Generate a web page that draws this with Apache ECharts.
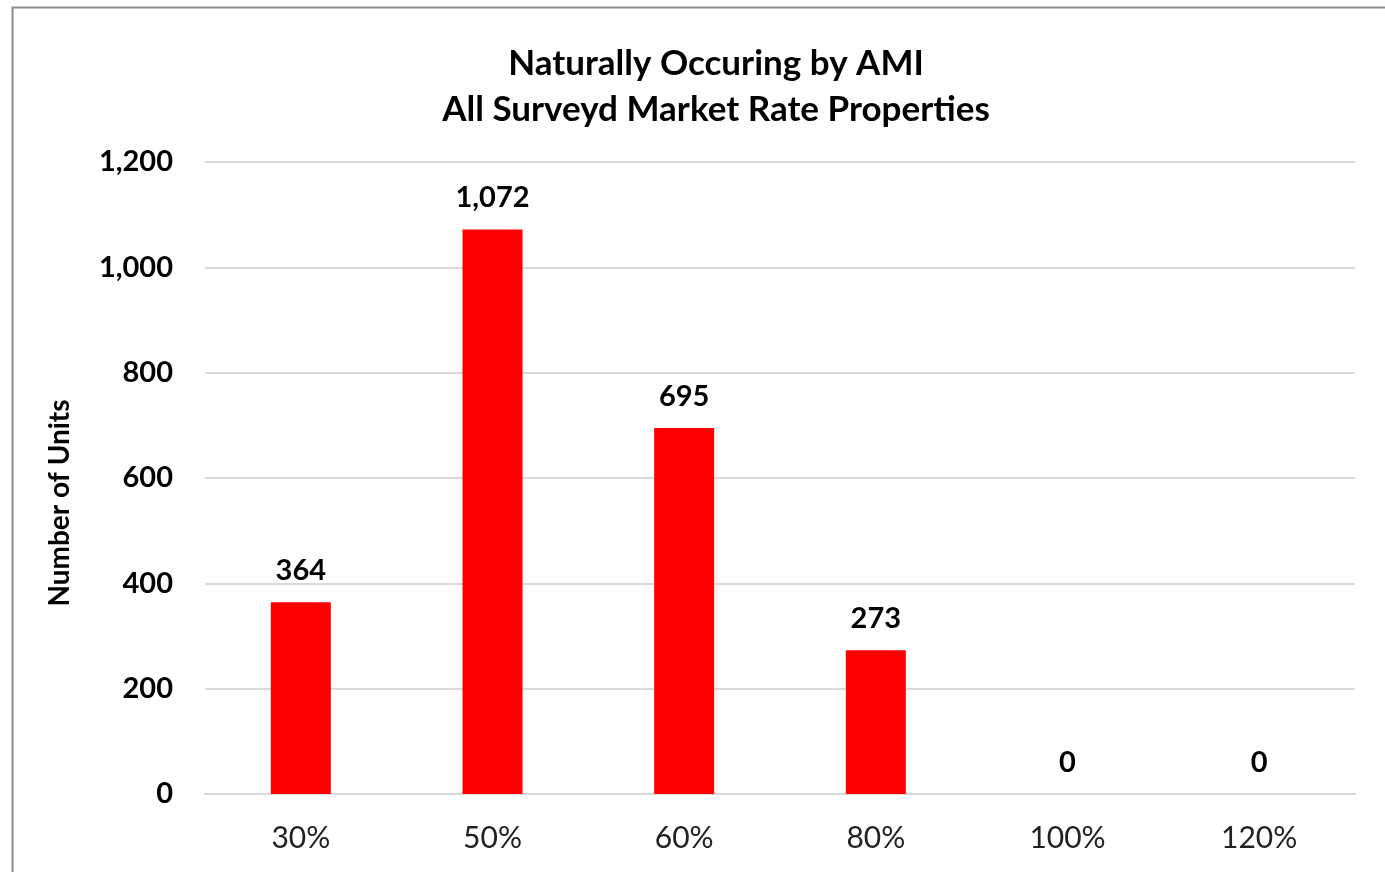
<!DOCTYPE html>
<html><head><meta charset="utf-8">
<script src="https://cdn.jsdelivr.net/npm/echarts@6/dist/echarts.min.js"></script>
<style>html,body{margin:0;padding:0;background:#fff}#c{width:1385px;height:872px}</style>
</head><body><div id="c"></div>
<script>
const categories = ['30%', '50%', '60%', '80%', '100%', '120%'];
const units = [364, 1072, 695, 273, 0, 0];
const titleLines = ['Naturally Occuring by AMI', 'All Surveyd Market Rate Properties'];
const yAxisName = 'Number of Units';

const FONT = 'Lato, "Open Sans", sans-serif';
const chart = echarts.init(document.getElementById('c'), null, {renderer: 'canvas'});
chart.setOption({
  backgroundColor: '#fff',
  animation: false,
  title: {
    text: titleLines.join('\n'),
    left: 711, top: 36, textAlign: 'center',
    textStyle: {fontFamily: FONT, fontWeight: 'bold', fontSize: 35, lineHeight: 46, color: '#000'}
  },
  graphic: [{
    type: 'rect', left: 10, top: 5, shape: {width: 1400, height: 900},
    style: {fill: 'none', stroke: '#8a8a8a', lineWidth: 2}, silent: true, z: -1
  }, {
    type: 'text', x: 60, y: 503, rotation: Math.PI / 2,
    style: {text: yAxisName, align: 'center', verticalAlign: 'middle',
      font: 'bold 28px Lato, "Open Sans", sans-serif', fill: '#000'}
  }],
  grid: {left: 205, right: 30, top: 162, bottom: 78, containLabel: false},
  xAxis: {
    type: 'category', data: categories,
    axisLine: {lineStyle: {color: '#d9d9d9', width: 2}},
    axisTick: {show: false},
    axisLabel: {fontFamily: FONT, fontSize: 30, color: '#222', margin: 29}
  },
  yAxis: {
    type: 'value', min: 0, max: 1200, interval: 200,
    axisLine: {show: false}, axisTick: {show: false},
    splitLine: {lineStyle: {color: '#d9d9d9', width: 2}},
    axisLabel: {fontFamily: FONT, fontWeight: 'bold', fontSize: 29, color: '#000', margin: 32,
      formatter: v => v.toLocaleString('en-US')}
  },
  series: [{
    type: 'bar', data: units, barWidth: 60,
    itemStyle: {color: '#ff0000'},
    label: {show: true, position: 'top', distance: 17, fontFamily: FONT, fontWeight: 'bold', fontSize: 29, color: '#000',
      formatter: p => p.value.toLocaleString('en-US')}
  }]
});
</script></body></html>
